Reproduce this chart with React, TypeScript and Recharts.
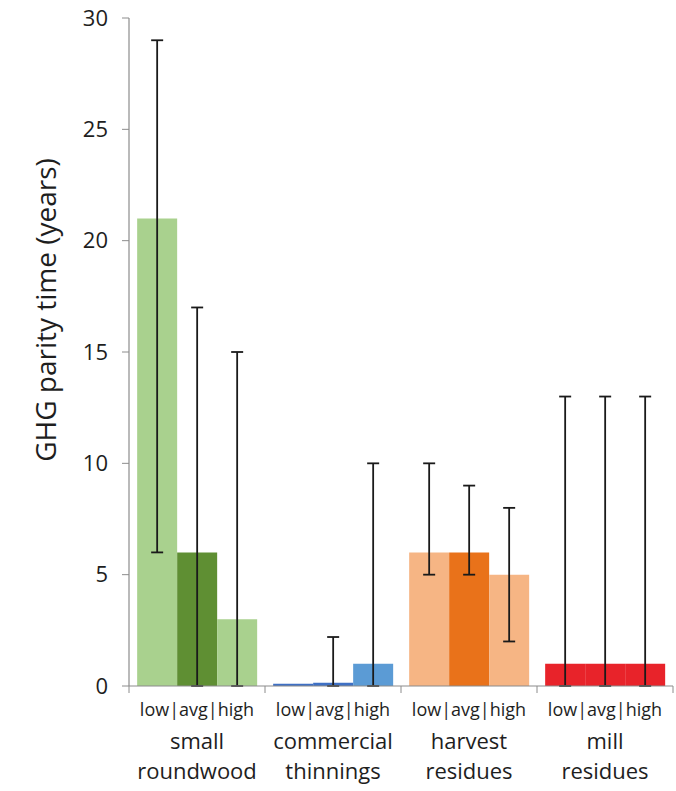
import React from 'react';
import { BarChart, Bar, XAxis, YAxis, ErrorBar, Cell } from 'recharts';

// feedstock groups, each shown as low | avg | high scenarios
const groups = ['small|roundwood', 'commercial|thinnings', 'harvest|residues', 'mill|residues'];

// parity time (years) per scenario
const lowValues = [21, 0.1, 6, 1];
const avgValues = [6, 0.15, 6, 1];
const highValues = [3, 1, 5, 1];

// range bounds (years); null = no range drawn
const lowMin = [6, null, 5, 0];
const lowMax = [29, null, 10, 13];
const avgMin = [0, 0, 5, 0];
const avgMax = [17, 2.2, 9, 13];
const highMin = [0, 0, 2, 0];
const highMax = [15, 10, 8, 13];

const yTicks = [0, 5, 10, 15, 20, 25, 30];

const lightColors = ['#a9d18e', '#3f70c4', '#f6b584', '#e8232a'];
const avgColors = ['#5f8f33', '#3f70c4', '#e9721a', '#e8232a'];
const highColors = ['#a9d18e', '#5b9bd5', '#f6b584', '#e8232a'];

const FONT = '"Open Sans", sans-serif';
const TEXT = '#1e1e1e';
const AXIS = '#8c8c8c';

const W = 676;
const H = 791;
const X_H = 30;
const M = { top: 18, right: 3, bottom: 105 - X_H, left: 0 };
const Y_W = 129;
const BAND = (W - M.left - M.right - Y_W) / groups.length;

const range = (v: number, lo: number | null, hi: number | null) =>
  lo === null || hi === null ? null : [v - lo, hi - v];

const data = groups.map((g, i) => ({
  group: g,
  low: lowValues[i],
  avg: avgValues[i],
  high: highValues[i],
  lowErr: range(lowValues[i], lowMin[i], lowMax[i]),
  avgErr: range(avgValues[i], avgMin[i], avgMax[i]),
  highErr: range(highValues[i], highMin[i], highMax[i]),
}));

const GroupTick = (props: any) => {
  const { x, y, payload, index } = props;
  const [a, b] = String(payload.value).split('|');
  const left = x - BAND / 2;
  return (
    <g>
      <line x1={left} y1={y} x2={left} y2={y + 7} stroke={AXIS} />
      {index === groups.length - 1 && (
        <line x1={left + BAND} y1={y} x2={left + BAND} y2={y + 7} stroke={AXIS} />
      )}
      <text x={x} y={y + 30} textAnchor="middle" fontSize={18} fill={TEXT} fontFamily={FONT}>
        low|avg|high
      </text>
      <text x={x} y={y + 63} textAnchor="middle" fontSize={22} fill={TEXT} fontFamily={FONT}>
        {a}
      </text>
      <text x={x} y={y + 93} textAnchor="middle" fontSize={22} fill={TEXT} fontFamily={FONT}>
        {b}
      </text>
    </g>
  );
};

const errStyle = { stroke: '#1a1a1a', strokeWidth: 1.8 };

export default function App() {
  return (
    <div style={{ position: 'absolute', left: 0, top: 0, background: '#fff' }}>
      <BarChart
        width={W}
        height={H}
        data={data}
        margin={M}
        barCategoryGap="6%"
        barGap={0}
      >
        <XAxis
          dataKey="group"
          height={X_H}
          interval={0}
          tickLine={false}
          tickSize={0}
          tickMargin={0}
          axisLine={{ stroke: AXIS, strokeWidth: 1.2 }}
          tick={<GroupTick />}
        />
        <YAxis
          width={Y_W}
          domain={[0, 30]}
          ticks={yTicks}
          interval={0}
          tickSize={7}
          tickMargin={14}
          axisLine={{ stroke: AXIS, strokeWidth: 1.2 }}
          tickLine={{ stroke: AXIS }}
          tick={{ fontSize: 22, fill: TEXT, fontFamily: FONT }}
          label={{
            content: () => (
              <text
                x={45}
                y={310}
                transform="rotate(-90 45 310)"
                textAnchor="middle"
                dominantBaseline="central"
                fontSize={28}
                fill={TEXT}
                fontFamily={FONT}
              >
                GHG parity time (years)
              </text>
            ),
          }}
        />
        <Bar dataKey="low" isAnimationActive={false}>
          {data.map((_, i) => (
            <Cell key={i} fill={lightColors[i]} />
          ))}
          <ErrorBar dataKey="lowErr" width={6} {...errStyle} />
        </Bar>
        <Bar dataKey="avg" isAnimationActive={false}>
          {data.map((_, i) => (
            <Cell key={i} fill={avgColors[i]} />
          ))}
          <ErrorBar dataKey="avgErr" width={6} {...errStyle} />
        </Bar>
        <Bar dataKey="high" isAnimationActive={false}>
          {data.map((_, i) => (
            <Cell key={i} fill={highColors[i]} />
          ))}
          <ErrorBar dataKey="highErr" width={6} {...errStyle} />
        </Bar>
      </BarChart>
    </div>
  );
}
